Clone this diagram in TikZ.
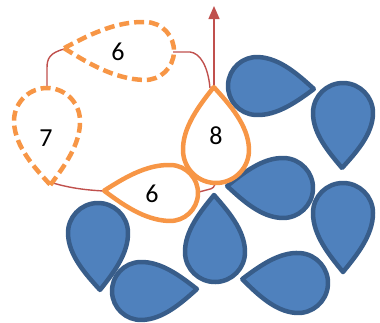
\documentclass[tikz,border=0pt]{standalone}
\usepackage{fontspec}
\setmainfont{Carlito}
\usetikzlibrary{arrows.meta,calc}
\definecolor{dropblue}{HTML}{4F81BD}
\definecolor{dropedge}{HTML}{385D8A}
\definecolor{droporange}{HTML}{F79646}
\definecolor{linkred}{HTML}{C0504D}
\tikzset{
 bluedrop/.style={fill=dropblue,draw=dropedge,line width=4.5pt,line join=round},
 orangedrop/.style={draw=droporange,line width=4.5pt,line join=round},
 dashdrop/.style={orangedrop,dash pattern=on 10pt off 5pt},
 link/.style={draw=linkred,line width=1.4pt},
 num/.style={font=\fontsize{26}{30}\selectfont,inner sep=0pt},
}
% style, cx, cy (pixels, y down), radius, tip angle, tip distance
\newcommand{\tdrop}[6]{%
 \begin{scope}[shift={(#2,-#3)},rotate=#5]
 \path[#1] (#6,0) .. controls ({0.72*#6},{0.45*#4}) and ({0.38*#6},#4) .. (0,#4)
   arc[start angle=90, end angle=270, radius=#4]
   .. controls ({0.38*#6},-#4) and ({0.72*#6},{-0.45*#4}) .. cycle;
 \end{scope}}
\begin{document}
\begin{tikzpicture}[x=1pt,y=1pt]
\useasboundingbox (0,0) rectangle (380,-322);
% connector ends
\coordinate (t6a) at (64,-49);
\coordinate (r6a) at (173,-52);
\coordinate (top7) at (47,-89);
\coordinate (tip7) at (53,-183);
\coordinate (tip6b) at (104,-191);
\coordinate (r6b) at (199,-192);
\coordinate (tip8) at (214,-88);
\coordinate (bot8) at (215,-183);
\coordinate (up) at (214,-6);
% red links
\draw[link] (t6a) .. controls (50,-53) and (47,-58) .. (47,-68) -- (top7);
\draw[link] (tip7) .. controls (70,-188) and (85,-190) .. (tip6b);
\draw[link] (r6a) -- (190,-52) .. controls (200,-53) and (208,-66) .. (210,-88);
\draw[link,-{Triangle[length=13pt,width=11pt]}] (tip8) -- (up);
\draw[link,rounded corners=3pt] (r6b) -- (214,-188) -- (bot8);
% blue drops
\tdrop{bluedrop}{257}{86}{29}{-3}{57}
\tdrop{bluedrop}{343}{113}{30}{-91}{55}
\tdrop{bluedrop}{283}{188}{30}{178}{56}
\tdrop{bluedrop}{343}{213}{30}{-90}{59}
\tdrop{bluedrop}{215}{252}{30}{91}{57}
\tdrop{bluedrop}{298}{283}{30}{176}{56}
\tdrop{bluedrop}{98}{233}{30}{-88}{57}
\tdrop{bluedrop}{141}{291}{29}{2}{56}
% orange drops
\tdrop{dashdrop}{145}{51}{29}{178}{81}
\tdrop{dashdrop}{47}{121}{33}{-87}{64}
\tdrop{orangedrop}{216}{150}{33}{92}{63}
\tdrop{orangedrop}{170}{193}{28}{178}{66}
% labels
\node[num] (n6a) at (118,-52) {6};
\node[num] (n7) at (46,-138) {7};
\node[num] (n8) at (216,-136) {8};
\node[num] (n6b) at (152,-194) {6};
\end{tikzpicture}
\end{document}
